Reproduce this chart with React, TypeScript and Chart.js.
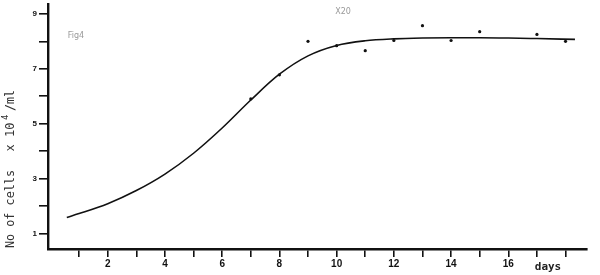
import React, { useEffect, useRef } from 'react';
import { Chart, registerables } from 'chart.js';

Chart.register(...registerables);

// Fitted growth curve (days, cells x10^4/ml)
const curveDays = [0.57, 1, 2, 3, 4, 5, 6, 7, 8, 9, 10, 11, 12, 13, 14, 15, 16, 17, 18.33];
const curveCells = [1.58, 1.72, 2.08, 2.56, 3.16, 3.92, 4.84, 5.86, 6.8, 7.47, 7.85, 8.02, 8.09, 8.12, 8.13, 8.13, 8.12, 8.1, 8.07];

// Observed counts
const obsDays = [7, 8, 9, 10, 11, 12, 13, 14, 15, 17, 18];
const obsCells = [5.9, 6.78, 8.0, 7.84, 7.66, 8.03, 8.57, 8.03, 8.35, 8.25, 8.0];

// Axis ticks
const xTicks = [1, 2, 3, 4, 5, 6, 7, 8, 9, 10, 11, 12, 13, 14, 15, 16, 17, 18];
const xLabelled = [2, 4, 6, 8, 10, 12, 14, 16];
const yTicks = [1, 2, 3, 4, 5, 6, 7, 8, 9];
const yLabelled = [1, 3, 5, 7, 9];

const xLabel = 'days';
const figLabel = 'Fig4';
const topLabel = 'X20';

const textPlugin = {
  id: 'texts',
  afterDraw(chart: any) {
    const ctx = chart.ctx;
    ctx.save();
    ctx.fillStyle = '#222';
    // x axis name
    ctx.font = 'bold 11px "DejaVu Sans Mono"';
    ctx.textAlign = 'center';
    ctx.textBaseline = 'middle';
    ctx.fillText(xLabel, 548, 267);
    // faint labels
    ctx.fillStyle = '#9a9a9a';
    ctx.font = '8px "DejaVu Sans"';
    ctx.fillText(figLabel, 76, 36);
    ctx.fillText(topLabel, 343, 12);
    // rotated y title
    ctx.fillStyle = '#333';
    ctx.translate(11, 0);
    ctx.rotate(-Math.PI / 2);
    ctx.textBaseline = 'middle';
    ctx.font = '12px "DejaVu Sans Mono"';
    ctx.textAlign = 'left';
    ctx.fillText('No of cells', -248, 0, 78);
    ctx.textAlign = 'center';
    ctx.fillText('x', -148, 0);
    ctx.textAlign = 'left';
    ctx.fillText('10', -137, 0, 17);
    ctx.font = '9px "DejaVu Sans Mono"';
    ctx.fillText('4', -120, -5);
    ctx.font = '12px "DejaVu Sans Mono"';
    ctx.fillText('/ml', -111, 0, 21);
    ctx.restore();
  },
};

export default function App() {
  const ref = useRef<HTMLCanvasElement>(null);
  useEffect(() => {
    if (!ref.current) return;
    const chart = new Chart(ref.current, {
      type: 'scatter',
      data: {
        datasets: [
          {
            data: curveDays.map((d, i) => ({ x: d, y: curveCells[i] })),
            showLine: true,
            borderColor: '#111',
            borderWidth: 1.6,
            pointRadius: 0,
            cubicInterpolationMode: 'monotone',
          } as any,
          {
            data: obsDays.map((d, i) => ({ x: d, y: obsCells[i] })),
            showLine: false,
            pointRadius: 1.6,
            pointBackgroundColor: '#111',
            pointBorderColor: '#111',
            pointBorderWidth: 0,
          },
        ],
      },
      options: {
        responsive: false,
        animation: false,
        layout: { padding: { left: 0, top: 0, right: 13, bottom: 0 } },
        plugins: { legend: { display: false }, tooltip: { enabled: false } },
        scales: {
          x: {
            type: 'linear',
            min: -0.087,
            max: 18.75,
            afterBuildTicks(scale: any) {
              scale.ticks = xTicks.map((v) => ({ value: v }));
            },
            afterFit(scale: any) {
              scale.height = 26;
              scale.paddingLeft = 0;
              scale.paddingRight = 0;
            },
            ticks: {
              autoSkip: false,
              maxRotation: 0,
              padding: 1,
              color: '#111',
              font: { family: '"Liberation Sans"', size: 10, weight: 'bold' },
              callback: (v: any) => (xLabelled.includes(v) ? String(v) : ''),
            },
            grid: {
              display: true,
              drawOnChartArea: false,
              drawTicks: true,
              tickLength: 8,
              color: '#111',
              lineWidth: 1.6,
            },
            border: { display: true, color: '#111', width: 2.4 },
          },
          y: {
            type: 'linear',
            min: 0.43,
            max: 9.36,
            afterBuildTicks(scale: any) {
              scale.ticks = yTicks.map((v) => ({ value: v }));
            },
            afterFit(scale: any) {
              scale.width = 48;
              scale.paddingTop = 0;
              scale.paddingBottom = 0;
            },
            ticks: {
              autoSkip: false,
              padding: 2,
              color: '#111',
              font: { family: '"Liberation Sans"', size: 8, weight: 'bold' },
              callback: (v: any) => (yLabelled.includes(v) ? String(v) : ''),
            },
            grid: {
              display: true,
              drawOnChartArea: false,
              drawTicks: true,
              tickLength: 9,
              color: '#111',
              lineWidth: 1.6,
            },
            border: { display: true, color: '#111', width: 2.4 },
          },
        },
      },
      plugins: [textPlugin],
    });
    return () => chart.destroy();
  }, []);
  return (
    <div style={{ position: 'fixed', left: 0, top: 0, width: 600, height: 275, background: '#fff' }}>
      <canvas ref={ref} width={600} height={275} />
    </div>
  );
}
